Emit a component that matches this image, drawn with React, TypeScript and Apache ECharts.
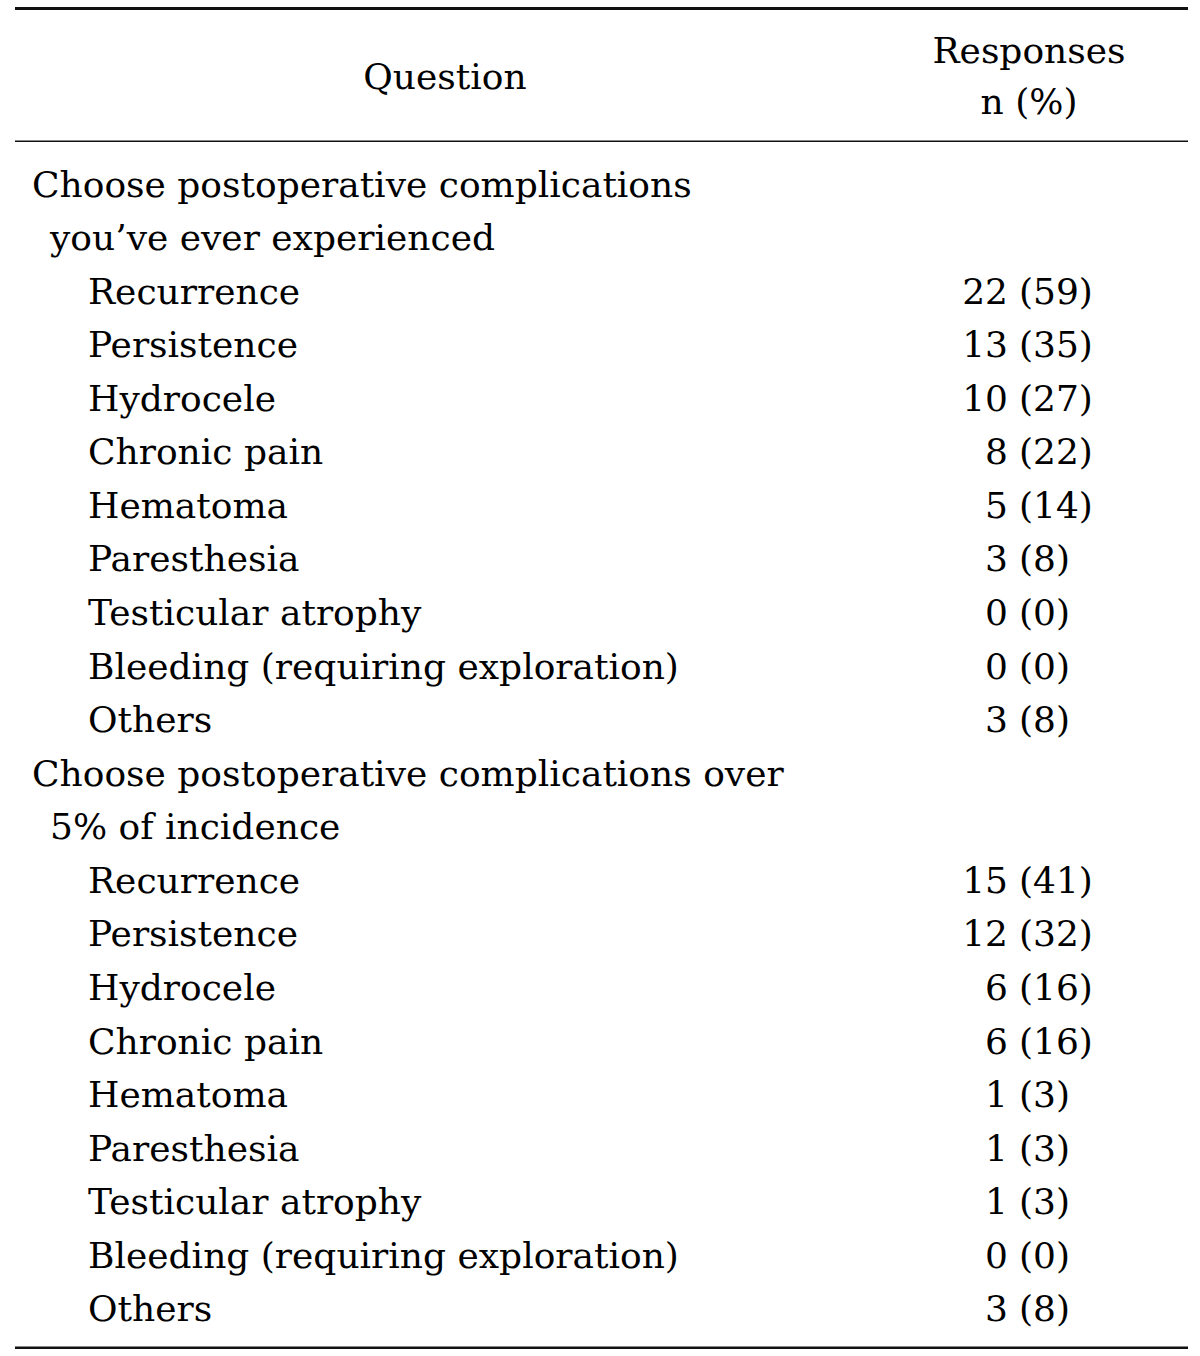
import React, { useEffect, useRef } from "react";
import * as echarts from "echarts";

const headerQuestion = "Question";
const headerResponses = ["Responses", "n (%)"];

const section1Title = ["Choose postoperative complications", "you\u2019ve ever experienced"];
const section2Title = ["Choose postoperative complications over", "5% of incidence"];

const complications = [
  "Recurrence",
  "Persistence",
  "Hydrocele",
  "Chronic pain",
  "Hematoma",
  "Paresthesia",
  "Testicular atrophy",
  "Bleeding (requiring exploration)",
  "Others",
];

const section1N = [22, 13, 10, 8, 5, 3, 0, 0, 3];
const section1Pct = [59, 35, 27, 22, 14, 8, 0, 0, 8];
const section2N = [15, 12, 6, 6, 1, 1, 1, 0, 3];
const section2Pct = [41, 32, 16, 16, 3, 3, 3, 0, 8];

const FONT = "'DejaVu Serif', 'Liberation Serif', serif";
const FS = 36;

export default function App() {
  const ref = useRef<HTMLDivElement>(null);
  useEffect(() => {
    document.body.style.margin = "0";
    if (!ref.current) return;
    const chart = echarts.init(ref.current, null, { renderer: "svg" });
    const els: any[] = [];
    const txt = (text: string, x: number, y: number, align: string = "left") => ({
      type: "text",
      x,
      y,
      style: {
        text,
        fill: "#000",
        font: `${FS}px ${FONT}`,
        textAlign: align,
        textVerticalAlign: "middle",
      },
    });
    // rules
    els.push({ type: "rect", shape: { x: 15, y: 7, width: 1173, height: 3 }, style: { fill: "#111" } });
    els.push({ type: "rect", shape: { x: 15, y: 140.5, width: 1173, height: 1.6 }, style: { fill: "#111" } });
    els.push({ type: "rect", shape: { x: 15, y: 1346.5, width: 1173, height: 2.6 }, style: { fill: "#111" } });
    // header
    els.push(txt(headerQuestion, 445, 76, "center"));
    els.push(txt(headerResponses[0], 1029, 50, "center"));
    els.push(txt(headerResponses[1], 1029, 101, "center"));

    const y0 = 184;
    const step = 53.57;
    let row = 0;
    const addSection = (title: string[], ns: number[], pcts: number[]) => {
      els.push(txt(title[0], 32, y0 + step * row++));
      els.push(txt(title[1], 50, y0 + step * row++));
      complications.forEach((c, i) => {
        const y = y0 + step * row++;
        els.push(txt(c, 88, y));
        els.push(txt(String(ns[i]), 1008, y, "right"));
        els.push(txt(`(${pcts[i]})`, 1019, y, "left"));
      });
    };
    addSection(section1Title, section1N, section1Pct);
    addSection(section2Title, section2N, section2Pct);

    chart.setOption({
      animation: false,
      backgroundColor: "#fff",
      graphic: { elements: els },
    });
    return () => chart.dispose();
  }, []);
  return <div ref={ref} style={{ width: 1200, height: 1356 }} />;
}
